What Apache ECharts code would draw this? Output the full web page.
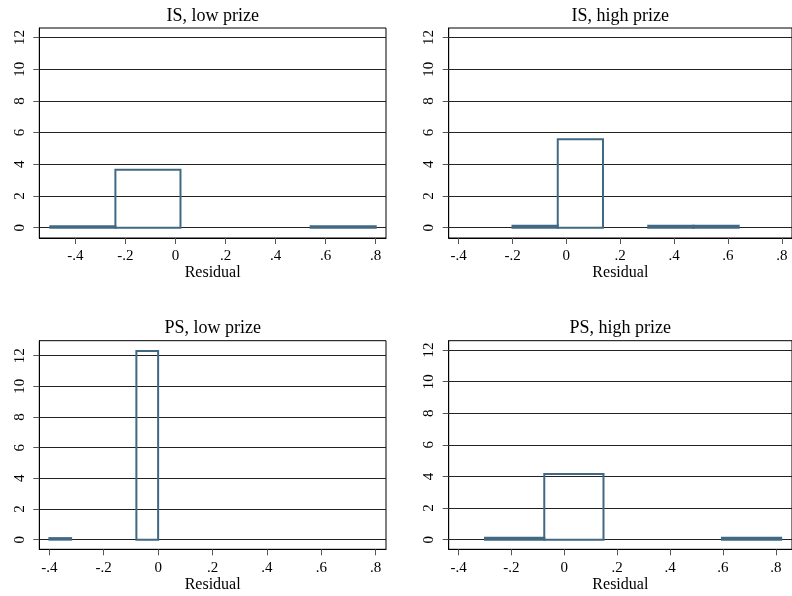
<!DOCTYPE html>
<html>
<head>
<meta charset="utf-8">
<title>Residual histograms</title>
<script src="https://cdn.jsdelivr.net/npm/echarts@6/dist/echarts.min.js"></script>
<style>
  html, body { margin: 0; padding: 0; background: #fff; }
  #chart { width: 792px; height: 596px; }
</style>
</head>
<body>
<div id="chart"></div>
<script>
// Panel titles
const panelTitles = ['IS, low prize', 'IS, high prize', 'PS, low prize', 'PS, high prize'];

// Histogram bin edges (residual) for each panel
const binEdgesISLow  = [-0.5, -0.24, 0.02, 0.28, 0.54, 0.8];
const binEdgesISHigh = [-0.2, -0.032, 0.136, 0.304, 0.472, 0.64];
const binEdgesPSLow  = [-0.4, -0.32, -0.24, -0.16, -0.08, 0.0];
const binEdgesPSHigh = [-0.3, -0.076, 0.148, 0.372, 0.596, 0.82];

// Density of each bin
const densityISLow  = [0.09, 3.66, 0, 0, 0.09];
const densityISHigh = [0.12, 5.58, 0, 0.12, 0.12];
const densityPSLow  = [0.10, 0, 0, 0, 12.31];
const densityPSHigh = [0.12, 4.16, 0, 0, 0.12];

// Tick values
const xTickValues = [-0.4, -0.2, 0, 0.2, 0.4, 0.6, 0.8];
const yTickValues = [0, 2, 4, 6, 8, 10, 12];

const edges = [binEdgesISLow, binEdgesISHigh, binEdgesPSLow, binEdgesPSHigh];
const densities = [densityISLow, densityISHigh, densityPSLow, densityPSHigh];

// Plot regions and axis extents
const layout = [
  { left: 39.3,  top: 28,    width: 346.7, height: 210,   x: [-0.544, 0.841], y: [-0.65, 12.6] },
  { left: 448.7, top: 28,    width: 346.3, height: 210,   x: [-0.437, 0.838], y: [-0.65, 12.6] },
  { left: 39.3,  top: 340.7, width: 346.7, height: 208.6, x: [-0.437, 0.838], y: [-0.63, 12.98] },
  { left: 448.7, top: 340.7, width: 346.3, height: 208.6, x: [-0.4375, 0.861], y: [-0.61, 12.59] }
];

const serif = '"Liberation Serif", "Times New Roman", serif';
const barColor = '#426983';

function fmtResidual(v) {
  if (Math.abs(v) < 1e-9) return '0';
  const s = (Math.round(v * 10) / 10).toString();
  return s.replace(/^(-?)0\./, '$1.');
}

const grids = [], xAxes = [], yAxes = [], titles = [], series = [];

layout.forEach((L, i) => {
  grids.push({
    left: L.left, top: L.top, width: L.width, height: L.height,
    show: true, borderColor: '#000', borderWidth: 1, backgroundColor: 'transparent'
  });
  titles.push({
    text: panelTitles[i],
    left: L.left + L.width / 2 - (i % 2 === 1 ? 1.5 : 0),
    top: L.top - 21,
    textAlign: 'center',
    padding: 0,
    textStyle: { fontFamily: serif, fontSize: 18, fontWeight: 'normal', color: '#000' }
  });
  xAxes.push({
    gridIndex: i, type: 'value', min: L.x[0], max: L.x[1],
    axisLine: { show: true, onZero: false, lineStyle: { color: '#000', width: 1 } },
    axisTick: { show: true, length: 6, customValues: xTickValues, lineStyle: { color: '#555', width: 1 } },
    axisLabel: { customValues: xTickValues, formatter: fmtResidual, fontFamily: serif, fontSize: 15, color: '#000', margin: 11 },
    splitLine: { show: false },
    name: 'Residual', nameLocation: 'middle', nameGap: 27,
    nameTextStyle: { fontFamily: serif, fontSize: 16, color: '#000' }
  });
  yAxes.push({
    gridIndex: i, type: 'value', min: L.y[0], max: L.y[1],
    axisLine: { show: true, onZero: false, lineStyle: { color: '#000', width: 1 } },
    axisTick: { show: true, length: 6, customValues: yTickValues, lineStyle: { color: '#555', width: 1 } },
    axisLabel: { customValues: yTickValues, rotate: 90, fontFamily: serif, fontSize: 15, color: '#000', margin: 12 },
    splitLine: { show: true, lineStyle: { color: '#222', width: 1 } }
  });

  const bins = [];
  for (let k = 0; k < densities[i].length; k++) {
    if (densities[i][k] > 0) bins.push([edges[i][k], edges[i][k + 1], densities[i][k]]);
  }
  series.push({
    type: 'custom',
    xAxisIndex: i, yAxisIndex: i,
    data: bins,
    clip: false,
    renderItem: function (params, api) {
      const p0 = api.coord([api.value(0), api.value(2)]);
      const p1 = api.coord([api.value(1), 0]);
      return {
        type: 'rect',
        shape: { x: p0[0], y: p0[1], width: p1[0] - p0[0], height: p1[1] - p0[1] },
        style: { fill: 'none', stroke: barColor, lineWidth: 2 }
      };
    },
    z: 5
  });
});

const chart = echarts.init(document.getElementById('chart'), null, { renderer: 'canvas' });
chart.setOption({
  animation: false,
  backgroundColor: '#fff',
  title: titles,
  grid: grids,
  xAxis: xAxes,
  yAxis: yAxes,
  series: series
});
</script>
</body>
</html>
